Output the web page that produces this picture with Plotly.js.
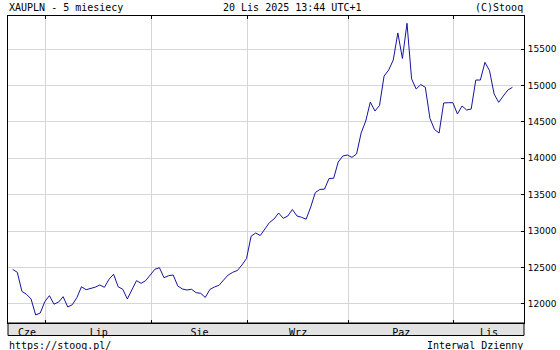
<!DOCTYPE html>
<html>
<head>
<meta charset="utf-8">
<script src="https://cdn.plot.ly/plotly-3.0.1.min.js"></script>
<style>
html,body{margin:0;padding:0;background:#fff;}
#chart{width:560px;height:350px;}
</style>
</head>
<body>
<div id="chart"></div>
<script>
// ---- data (one point per trading day, 20 Jun 2025 .. 20 Nov 2025) ----
const monthNames = ['Cze', 'Lip', 'Sie', 'Wrz', 'Paz', 'Lis'];
const monthStartIdx = [7, 30, 51, 73, 96];   // index of first trading day of Lip..Lis
const prices = [
  12474, 12435, 12174, 12133, 12069, 11849, 11876,
  12032, 12114, 11997, 12027, 12100, 11959, 11990, 12089, 12237, 12196,
  12210, 12231, 12261, 12229, 12339, 12408, 12237, 12202, 12069, 12202,
  12320, 12284, 12320,
  12398, 12476, 12498, 12361, 12388, 12398, 12247, 12206, 12192, 12202,
  12155, 12147, 12090, 12199, 12233, 12257, 12329, 12398, 12435, 12460,
  12535,
  12625, 12930, 12974, 12940, 13036, 13118, 13167, 13249, 13176, 13208,
  13297, 13208, 13190, 13163, 13331, 13530, 13572, 13576, 13723, 13725,
  13949, 14031,
  14045, 14013, 14059, 14347, 14512, 14772, 14649, 14724, 15129, 15211,
  15349, 15720, 15370, 15853, 15090, 14951, 15012, 14974, 14549, 14395,
  14347, 14759, 14763,
  14763, 14608, 14718, 14663, 14676, 15074, 15074, 15317, 15202, 14882,
  14768, 14855, 14937, 14974
];
const yTicks = [12000, 12500, 13000, 13500, 14000, 14500, 15000, 15500];

// ---- layout helpers ----
const xIdx = prices.map((_, i) => i);
const xRange = [-1.03, 111.52];
const yRange = [11739, 15953];
const gridShift = 0.25;
const boundaries = monthStartIdx.map(v => v + gridShift);
const edges = [xRange[0]].concat(boundaries, [xRange[1]]);
const labelPos = monthNames.map((_, k) => (edges[k] + edges[k + 1]) / 2);

const L = 8, R = 524, T = 16, B = 323, W = 560, H = 350;
const pw = R - L, ph = B - T;
const px = v => (v - L) / pw;
const py = v => (B - v) / ph;

const mono = 'DejaVu Sans Mono, monospace';
const txt = '#000000';
const gridCol = '#d6d6d6';

const traces = [
  {
    x: xIdx, y: prices, type: 'scatter', mode: 'lines',
    line: {color: '#1414a0', width: 1},
    hoverinfo: 'skip'
  }
];

const layout = {
  width: W, height: H,
  margin: {l: L, r: W - R, t: T, b: H - B, pad: 0},
  paper_bgcolor: '#ffffff', plot_bgcolor: '#ffffff',
  showlegend: false,
  xaxis: {
    range: xRange, fixedrange: true,
    tickmode: 'array', tickvals: labelPos, ticktext: monthNames,
    ticks: '', showgrid: false, zeroline: false,
    showline: true, linecolor: '#000', linewidth: 1, mirror: 'ticks',
    tickfont: {family: mono, size: 10, color: txt},
    ticklabelstandoff: 0,
    minor: {
      tickmode: 'array', tickvals: boundaries,
      ticks: 'inside', ticklen: 3, tickcolor: '#000', tickwidth: 1,
      showgrid: true, gridcolor: gridCol, gridwidth: 1
    }
  },
  yaxis: {
    range: yRange, fixedrange: true, side: 'right',
    tickmode: 'array', tickvals: yTicks, ticktext: yTicks.map(String),
    ticks: 'inside', ticklen: 3, tickcolor: '#000',
    showgrid: true, gridcolor: gridCol, gridwidth: 1,
    zeroline: false,
    showline: true, linecolor: '#000', linewidth: 1, mirror: true,
    tickfont: {family: 'DejaVu Sans, sans-serif', size: 9, color: txt},
    ticklabelstandoff: 1
  },
  shapes: [
    {
      type: 'rect', xref: 'paper', yref: 'paper',
      x0: 0, x1: 1, y0: py(335.5), y1: 0,
      fillcolor: '#e2e2e2', line: {color: '#000', width: 1}, layer: 'below'
    }
  ],
  annotations: [
    {text: 'XAUPLN - 5 miesiecy', xref: 'paper', yref: 'paper',
     x: px(L), y: py(8), xanchor: 'left', yanchor: 'middle', showarrow: false,
     font: {family: mono, size: 10, color: txt}, borderpad: 0},
    {text: '20 Lis 2025 13:44 UTC+1', xref: 'paper', yref: 'paper',
     x: px(222), y: py(8), xanchor: 'left', yanchor: 'middle', showarrow: false,
     font: {family: mono, size: 10, color: txt}, borderpad: 0},
    {text: '(C)Stooq', xref: 'paper', yref: 'paper',
     x: px(R), y: py(8), xanchor: 'right', yanchor: 'middle', showarrow: false,
     font: {family: mono, size: 10, color: txt}, borderpad: 0},
    {text: 'https://stooq.pl/', xref: 'paper', yref: 'paper',
     x: px(L), y: py(345), xanchor: 'left', yanchor: 'middle', showarrow: false,
     font: {family: mono, size: 10, color: txt}, borderpad: 0},
    {text: 'Interwal Dzienny', xref: 'paper', yref: 'paper',
     x: px(R), y: py(345), xanchor: 'right', yanchor: 'middle', showarrow: false,
     font: {family: mono, size: 10, color: txt}, borderpad: 0}
  ]
};

Plotly.newPlot('chart', traces, layout, {staticPlot: true, displayModeBar: false});
</script>
</body>
</html>
